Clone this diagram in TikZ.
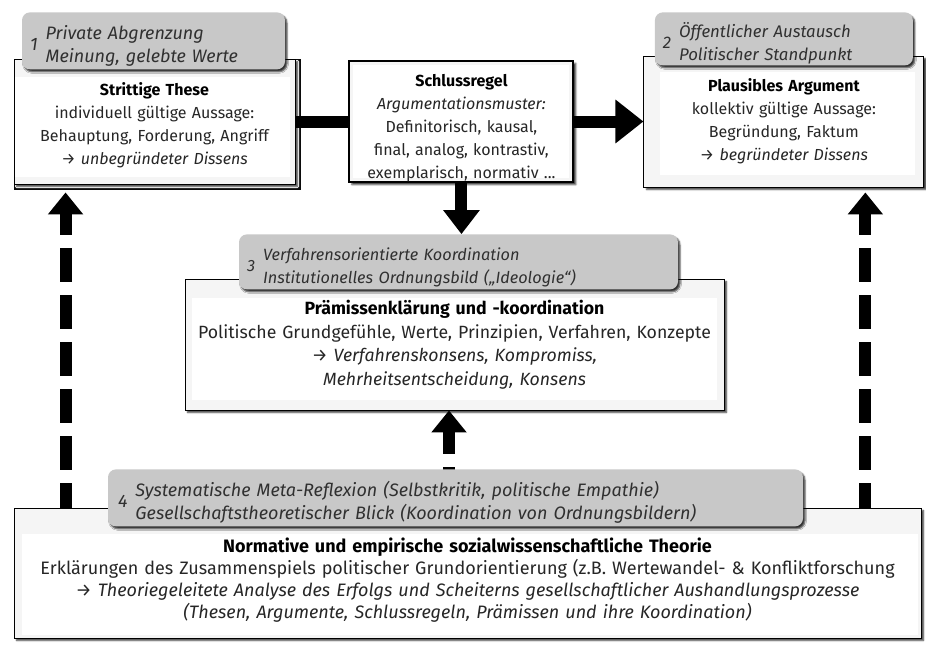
\documentclass[tikz,border=0pt]{standalone}
\usepackage{fontspec}
\setmainfont{Fira Sans}
\usepackage{tikz}
\usetikzlibrary{arrows.meta,positioning,backgrounds,shadows.blur}
\definecolor{Canvas}{HTML}{F4F4F4}
\definecolor{BoxRim}{HTML}{F5F5F5}
\definecolor{TagGray}{HTML}{C8C8C8}
\definecolor{Ink}{HTML}{262626}
\definecolor{TagInk}{HTML}{303030}
\newcommand{\stufe}[3]{\raisebox{-5.5pt}[\height][\depth]{\textit{#1}\hspace{8pt}\begin{tabular}[c]{@{}l@{}}\textit{#2}\\ \textit{#3}\end{tabular}}}
\tikzset{
  mainbox/.style n args={4}{draw=black, line width=0.9pt, fill=BoxRim, text=Ink, align=center, inner sep=0pt, font=\fontsize{16}{23}\selectfont,
    blur shadow={shadow xshift=2.5pt, shadow yshift=-2.5pt, shadow blur radius=1.5pt, shadow opacity=75},
    path picture={\fill[white] ([shift={(#1,-#2)}]path picture bounding box.north west) rectangle ([shift={(-#3,#4)}]path picture bounding box.south east);}},
  rulebox/.style={mainbox={4pt}{4pt}{4pt}{4pt}, line width=2pt},
  stufetag/.style={fill=TagGray, rounded corners=8pt, text=TagInk, align=left, inner xsep=8pt, inner ysep=0pt, font=\fontsize{16}{23}\selectfont,
    blur shadow={shadow xshift=2pt, shadow yshift=-2.5pt, shadow blur radius=1.5pt, shadow opacity=80}},
  bigarrow/.style={-{Triangle[width=42pt,length=28pt]}, line width=12pt, draw=black},
  downarrow/.style={-{Triangle[width=35pt,length=24pt]}, line width=12pt, draw=black},
  dasharrow/.style={-{Triangle[width=34pt,length=22pt]}, line width=12pt, draw=black, dash pattern=on 34pt off 13pt}
}
\begin{document}
\begin{tikzpicture}[x=1pt,y=-1pt]
\useasboundingbox (0,0) rectangle (926,645);
\begin{scope}[on background layer]
\fill[Canvas] (0,0) rectangle (926,645);
\end{scope}
% main boxes
\node[mainbox={1pt}{18pt}{5pt}{7pt}, text width=281pt, minimum height=125pt] (these) at (154.5,121.5)
  {\rule{0pt}{20pt}\textbf{\color{black}Strittige These}\\individuell gültige Aussage:\\Behauptung, Forderung, Angriff\\→ \textit{unbegründeter Dissens}};
\node[rulebox, text width=224pt, minimum height=121pt, right=53pt of these] (regel)
  {\rule{0pt}{26pt}\textbf{\color{black}Schlussregel}\\\textit{Argumentationsmuster:}\\Definitorisch, kausal,\\final, analog, kontrastiv,\\exemplarisch, normativ ...};
\node[mainbox={16pt}{16pt}{9pt}{12pt}, text width=280pt, minimum height=131pt, right=69pt of regel] (argument)
  {\textbf{\color{black}Plausibles Argument}\\kollektiv gültige Aussage:\\Begründung, Faktum\\→ \textit{begründeter Dissens}};
\node[mainbox={7pt}{19pt}{7pt}{10pt}, text width=539pt, minimum height=131pt, font=\fontsize{17.7}{23.5}\selectfont] (praemisse) at (454.5,344.5)
  {\textbf{\color{black}Prämissenklärung und -koordination}\\Politische Grundgefühle, Werte, Prinzipien, Verfahren, Konzepte\\→ \textit{Verfahrenskonsens, Kompromiss,}\\\textit{Mehrheitsentscheidung, Konsens}};
\node[mainbox={8pt}{26pt}{3pt}{3pt}, text width=907pt, minimum height=130pt, font=\fontsize{18}{22}\selectfont] (theorie) at (467.5,573)
  {\rule{0pt}{28pt}\textbf{\color{black}Normative und empirische sozialwissenschaftliche Theorie}\\Erklärungen des Zusammenspiels politischer Grundorientierung (z.B. Wertewandel- \& Konfliktforschung\\→ \textit{Theoriegeleitete Analyse des Erfolgs und Scheiterns gesellschaftlicher Aushandlungsprozesse}\\\textit{(Thesen, Argumente, Schlussregeln, Prämissen und ihre Koordination)}};
% stage tags
\node[stufetag, text width=247pt, minimum height=57pt, font=\fontsize{18}{23}\selectfont, above=-11pt of these.north, xshift=-1pt] (stufe1)
  {\stufe{1}{Private Abgrenzung}{Meinung, gelebte Werte}};
\node[stufetag, text width=242pt, minimum height=53pt, font=\fontsize{16.8}{23}\selectfont, above=-10pt of argument.north] (stufe2)
  {\stufe{2}{Öffentlicher Austausch}{Politischer Standpunkt}};
\node[stufetag, text width=423pt, minimum height=55pt, font=\fontsize{16.3}{23}\selectfont, above=-11pt of praemisse.north, xshift=4pt] (stufe3)
  {\stufe{3}{Verfahrensorientierte Koordination}{Institutionelles Ordnungsbild („Ideologie“)}};
\node[stufetag, text width=675pt, minimum height=57pt, inner xsep=10pt, font=\fontsize{18}{23}\selectfont, above=-19pt of theorie.north, xshift=-12pt] (stufe4)
  {\stufe{4}{Systematische Meta-Reflexion (Selbstkritik, politische Empathie)}{Gesellschaftstheoretischer Blick (Koordination von Ordnungsbildern)}};
% connectors
\coordinate (links) at ([xshift=52pt]these.south west);
\coordinate (rechts) at ([xshift=-59pt]argument.south east);
\coordinate (mitte) at ([xshift=-5.5pt]praemisse.south);
\begin{scope}[on background layer]
\draw[bigarrow] (these) -- (argument);
\draw[downarrow] (regel) -- (regel |- stufe3.north);
\draw[dasharrow, dash phase=9pt, shorten >=8pt] (links |- theorie.north) -- (links);
\draw[dasharrow, dash phase=9pt, shorten >=5pt] (rechts |- theorie.north) -- (rechts);
\draw[dasharrow, dash phase=40pt] (mitte |- theorie.north) -- (mitte);
\end{scope}
\end{tikzpicture}
\end{document}
